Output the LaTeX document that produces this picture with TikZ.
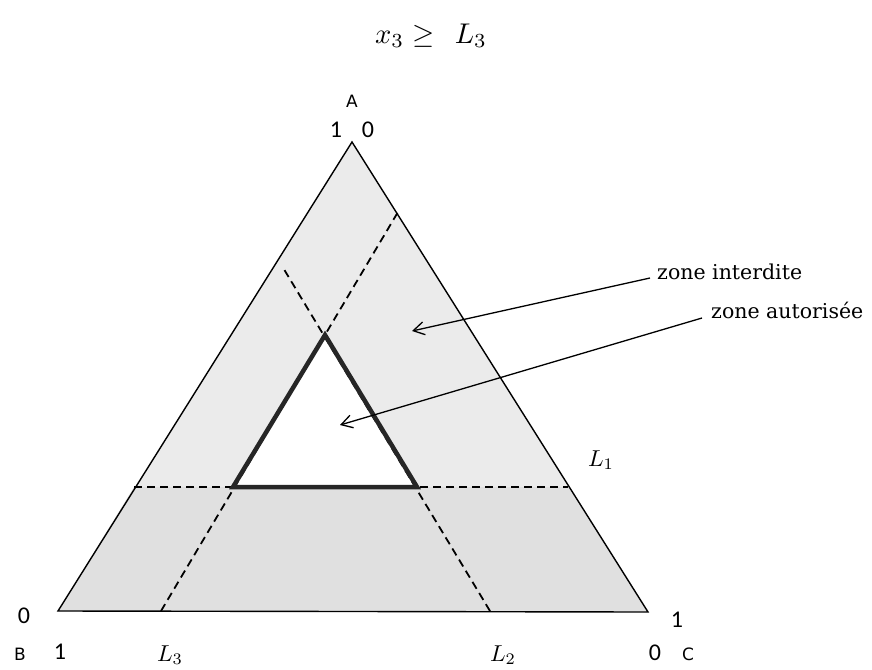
\RequirePackage{fix-cm}
\documentclass[tikz,border=0pt]{standalone}
\usepackage{fontspec}
\usepackage{amsmath}
\usetikzlibrary{arrows.meta}
\newfontfamily\sansf{DejaVu Sans}
\newfontfamily\numf{Carlito}
\newfontfamily\serf{DejaVu Serif}
\definecolor{fillA}{HTML}{EBEBEB}
\definecolor{fillB}{HTML}{E0E0E0}
\tikzset{
  outline/.style={line width=1.4pt, black},
  dline/.style={line width=1.8pt, black, dash pattern=on 8pt off 5pt},
  inner/.style={line width=4.5pt, black!85, line join=miter},
  lbl/.style={inner sep=0pt, font=\sansf\fontsize{17}{19}\selectfont},
  num/.style={inner sep=0pt, font=\numf\fontsize{24}{27}\selectfont},
  mlbl/.style={inner sep=0pt, font=\fontsize{10}{12}\selectfont, scale=2.3},
  txt/.style={inner sep=0pt, font=\serf\fontsize{20.5}{24}\selectfont},
  arr/.style={line width=1.3pt, -{Straight Barb[length=11pt,width=13pt,line width=1.3pt]}}
}
\begin{document}
\begin{tikzpicture}[x=1pt,y=-1pt]
\useasboundingbox (0,0) rectangle (872,669);
% big triangle vertices
\coordinate (A) at (352,142);
\coordinate (B) at (58,611);
\coordinate (C) at (648,612);
% inner triangle
\coordinate (P) at (325,335);
\coordinate (Q) at (233,487);
\coordinate (R) at (417,487);
% dashed line ends
\coordinate (hL) at (134,487);
\coordinate (hR) at (568,487);
\coordinate (l3b) at (161,611);
\coordinate (l3t) at (398,212);
\coordinate (l2b) at (490,611);
\coordinate (l2t) at (282,266);
% fills
\fill[fillA] (A) -- (B) -- (C) -- cycle;
\fill[fillB] (hL) -- (B) -- (C) -- (hR) -- cycle;
\fill[white] (P) -- (Q) -- (R) -- cycle;
% dashed lines
\draw[dline] (hL) -- (hR);
\draw[dline] (l3b) -- (l3t);
\draw[dline] (l2b) -- (l2t);
% outline
\draw[outline] (A) -- (B) -- (C) -- cycle;
\draw[inner] (P) -- (Q) -- (R) -- cycle;
% title
\node[inner sep=0pt, font=\fontsize{10}{12}\selectfont, scale=2.85] (title) at (431,36) {$x_3 \geq\;\, L_3$};
% corner labels
\node[lbl] (lA) at (352,101) {A};
\node[num] (nA1) at (336,130) {1};
\node[num] (nA0) at (368,130) {0};
\node[num] (nB0) at (24,616) {0};
\node[lbl] (lB) at (20,654) {B};
\node[num] (nB1) at (60,652) {1};
\node[num] (nC1) at (677,620) {1};
\node[num] (nC0) at (655,653) {0};
\node[lbl] (lC) at (688,654) {C};
\node[mlbl] (L3) at (170,655) {$L_3$};
\node[mlbl] (L2) at (503,655) {$L_2$};
\node[mlbl] (L1) at (601,460) {$L_1$};
% zone labels
\node[txt, anchor=base west] (zi) at (657,279) {zone interdite};
\node[txt, anchor=base west] (za) at (711,318) {zone autorisée};
\coordinate (ziS) at (650,278);
\coordinate (ziT) at (412,331);
\coordinate (zaS) at (702,318);
\coordinate (zaT) at (340,425);
\draw[arr] (ziS) -- (ziT);
\draw[arr] (zaS) -- (zaT);
\end{tikzpicture}
\end{document}
